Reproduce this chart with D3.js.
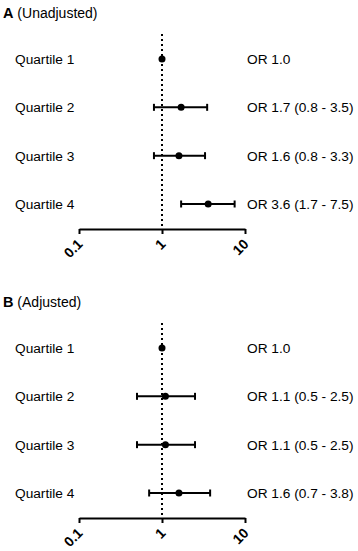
<!DOCTYPE html>
<html>
<head>
<meta charset="utf-8">
<script src="https://cdn.jsdelivr.net/npm/d3@7"></script>
<style>
  body { margin: 0; background: #fff; }
  text { font-family: "Liberation Sans", Arial, sans-serif; fill: #000; }
</style>
</head>
<body>
<svg id="chart" width="358" height="551"></svg>
<script>
// data
var quartiles = ["Quartile 1", "Quartile 2", "Quartile 3", "Quartile 4"];
var orUnadj = [1.0, 1.7, 1.6, 3.6];
var lowUnadj = [null, 0.8, 0.8, 1.7];
var highUnadj = [null, 3.5, 3.3, 7.5];
var orAdj = [1.0, 1.1, 1.1, 1.6];
var lowAdj = [null, 0.5, 0.5, 0.7];
var highAdj = [null, 2.5, 2.5, 3.8];
var tickVals = [0.1, 1, 10];

var svg = d3.select("#chart");

var x = d3.scaleLog().domain([0.1, 10]).range([79, 245]);

function fmt(v) { return v.toFixed(1); }

function panel(top, letter, title, or, lo, hi) {
  var g = svg.append("g").attr("transform", "translate(0," + top + ")");

  var y = d3.scalePoint().domain(quartiles).range([59, 204]);
  var axisY = 229;

  var t = g.append("text").attr("x", 3).attr("y", 18).style("font-size", "14px");
  t.append("tspan").attr("font-weight", "bold").style("font-size", "14.5px").text(letter);
  t.append("tspan").text(" " + title);

  // reference line at OR = 1
  g.append("line")
    .attr("x1", x(1)).attr("x2", x(1))
    .attr("y1", 34).attr("y2", axisY)
    .attr("stroke", "#000").attr("stroke-width", 2)
    .attr("stroke-dasharray", "2,3");

  var rows = quartiles.map(function(q, i) {
    return {q: q, or: or[i], lo: lo[i], hi: hi[i]};
  });

  g.selectAll(".lab").data(rows).join("text")
    .attr("x", 15).attr("y", d => y(d.q) + 5)
    .style("font-size", "13.7px")
    .text(d => d.q);

  g.selectAll(".orlab").data(rows).join("text")
    .attr("x", 247).attr("y", d => y(d.q) + 5)
    .style("font-size", "13.7px")
    .text(d => "OR " + fmt(d.or) + (d.lo != null ? " (" + fmt(d.lo) + " - " + fmt(d.hi) + ")" : ""));

  var ci = rows.filter(d => d.lo != null);
  g.selectAll(".ci").data(ci).join("line")
    .attr("x1", d => x(d.lo)).attr("x2", d => x(d.hi))
    .attr("y1", d => y(d.q)).attr("y2", d => y(d.q))
    .attr("stroke", "#000").attr("stroke-width", 2);
  ["lo", "hi"].forEach(function(k) {
    g.selectAll(".cap" + k).data(ci).join("line")
      .attr("x1", d => x(d[k])).attr("x2", d => x(d[k]))
      .attr("y1", d => y(d.q) - 3.5).attr("y2", d => y(d.q) + 3.5)
      .attr("stroke", "#000").attr("stroke-width", 2);
  });

  g.selectAll(".pt").data(rows).join("circle")
    .attr("cx", d => x(d.or)).attr("cy", d => y(d.q))
    .attr("r", 3.5).attr("fill", "#000");

  var ax = g.append("g").attr("transform", "translate(0," + axisY + ")")
    .call(d3.axisBottom(x).tickValues(tickVals).tickFormat(d3.format("")).tickSize(5).tickSizeOuter(0));
  ax.select(".domain").attr("stroke-width", 2);
  ax.selectAll(".tick line").attr("stroke-width", 2);
  ax.selectAll(".tick text")
    .attr("font-family", "Liberation Sans, Arial, sans-serif")
    .attr("font-size", "14px").attr("font-weight", "bold")
    .attr("text-anchor", "end")
    .attr("dy", null).attr("y", 0)
    .attr("transform", "translate(4,16) rotate(-45)");
}

panel(0, "A", "(Unadjusted)", orUnadj, lowUnadj, highUnadj);
panel(289, "B", "(Adjusted)", orAdj, lowAdj, highAdj);
</script>
</body>
</html>
